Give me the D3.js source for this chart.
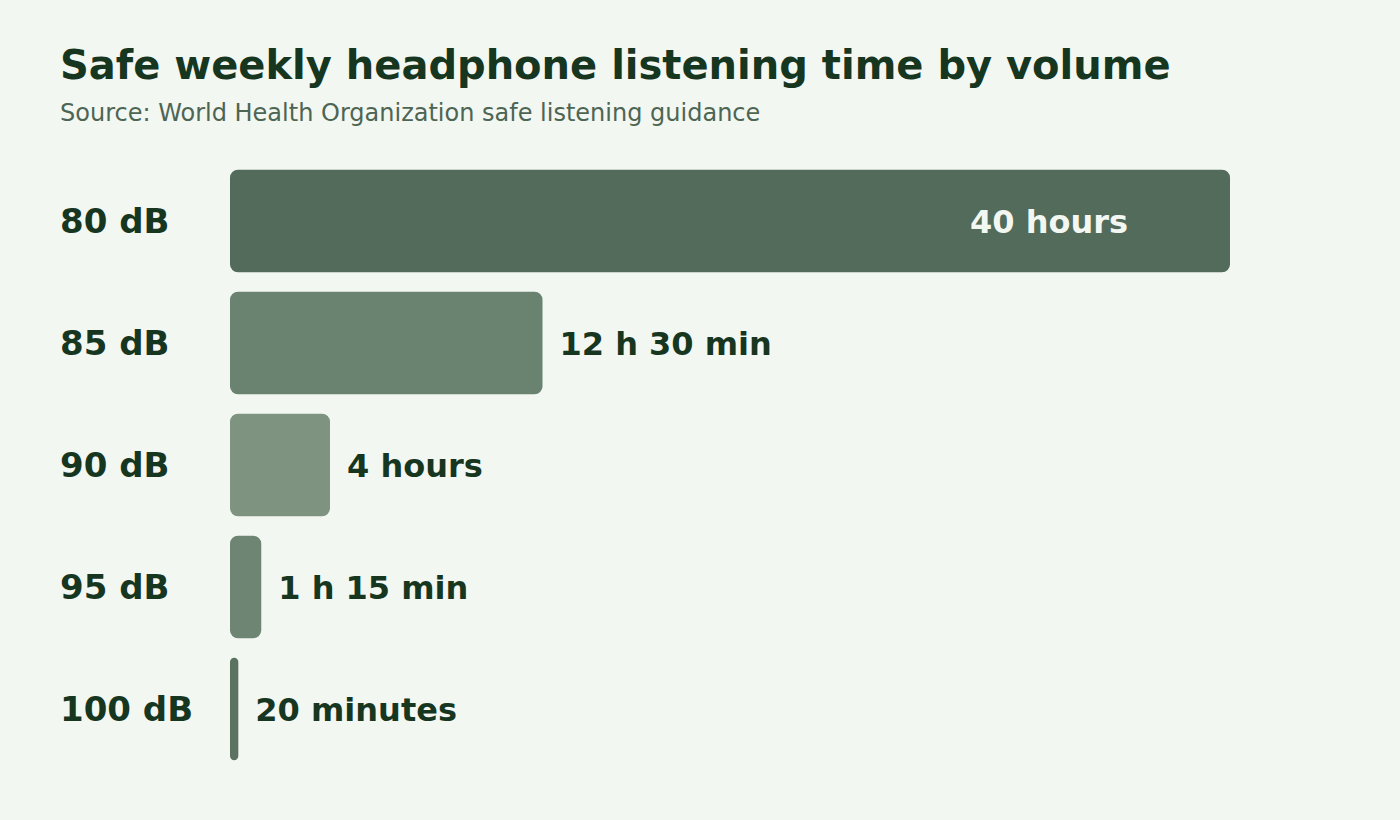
<!DOCTYPE html>
<html lang="en">
<head>
  <meta charset="UTF-8">
  <title>Safe weekly headphone listening time by volume</title>
  <style>
    html, body {
      margin: 0;
      padding: 0;
      background: #f3f7f2;
    }
    body {
      font-family: "DejaVu Sans", sans-serif;
    }
  </style>
</head>
<body>
  <svg class="chart"></svg>
  <script src="https://cdn.jsdelivr.net/npm/d3@7/dist/d3.min.js"></script>
  <script>
    var w = 1400;
    var h = 820;

    // data
    var levels = ["80 dB", "85 dB", "90 dB", "95 dB", "100 dB"];
    var hours = [40, 12.5, 4, 1.25, 1 / 3];
    var valueLabels = ["40 hours", "12 h 30 min", "4 hours", "1 h 15 min", "20 minutes"];
    var barColors = ["#526b5a", "#6a8371", "#7f9381", "#6f8574", "#5b7261"];

    var rows = levels.map((d, i) => ({level: d, hours: hours[i], label: valueLabels[i], color: barColors[i]}));

    var svg = d3.select(".chart")
      .attr("width", w)
      .attr("height", h);

    svg.append("rect")
      .attr("width", w)
      .attr("height", h)
      .attr("fill", "#f3f7f2");

    // title + source
    svg.append("text")
      .attr("x", 60)
      .attr("y", 79)
      .attr("font-size", "40px")
      .attr("font-weight", "bold")
      .attr("fill", "#17361f")
      .text("Safe weekly headphone listening time by volume");

    svg.append("text")
      .attr("x", 60)
      .attr("y", 121)
      .attr("font-size", "24px")
      .attr("fill", "#4d6553")
      .text("Source: World Health Organization safe listening guidance");

    var x = d3.scaleLinear()
      .domain([0, 40])
      .range([230, 1230]);

    var y = d3.scaleBand()
      .domain(levels)
      .range([160, 770])
      .paddingInner(0.16)
      .paddingOuter(0.08);

    // rounded bars
    svg.selectAll("rect.bar")
      .data(rows)
      .enter()
      .append("rect")
      .attr("class", "bar")
      .attr("x", x(0))
      .attr("y", d => y(d.level))
      .attr("width", d => x(d.hours) - x(0))
      .attr("height", y.bandwidth())
      .attr("rx", d => Math.min(8, (x(d.hours) - x(0)) / 2))
      .attr("fill", d => d.color);

    // category labels
    svg.selectAll("text.cat")
      .data(rows)
      .enter()
      .append("text")
      .attr("class", "cat")
      .attr("x", 60)
      .attr("y", d => y(d.level) + y.bandwidth() / 2)
      .attr("dy", "0.36em")
      .attr("font-size", "34px")
      .attr("font-weight", "bold")
      .attr("fill", "#17361f")
      .text(d => d.level);

    // value labels: inside for the long bar, outside otherwise
    svg.selectAll("text.val")
      .data(rows)
      .enter()
      .append("text")
      .attr("class", "val")
      .attr("x", d => d.hours > 20 ? x(d.hours) - 102 : x(d.hours) + 17)
      .attr("y", d => y(d.level) + y.bandwidth() / 2)
      .attr("dy", "0.36em")
      .attr("text-anchor", d => d.hours > 20 ? "end" : "start")
      .attr("font-size", "32px")
      .attr("font-weight", "bold")
      .attr("fill", d => d.hours > 20 ? "#f3f7f2" : "#17361f")
      .text(d => d.label);
  </script>
</body>
</html>
